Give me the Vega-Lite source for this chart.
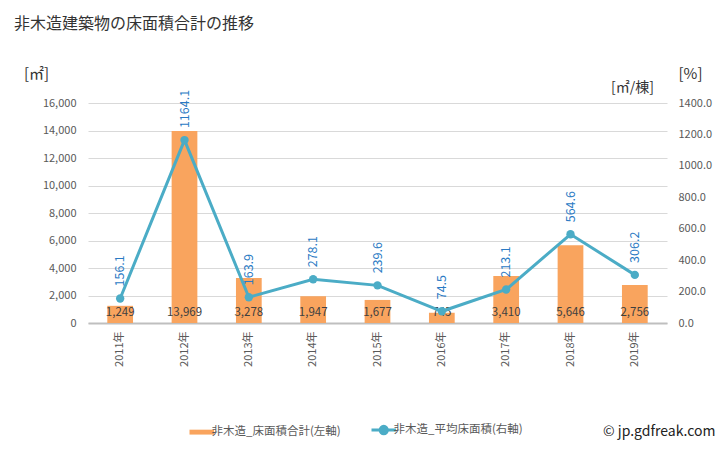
{
  "$schema": "https://vega.github.io/schema/vega-lite/v6.json",
  "width": 579,
  "height": 220,
  "autosize": "none",
  "padding": {"left": 88, "top": 103, "right": 61, "bottom": 127},
  "background": "white",
  "title": {
    "text": "非木造建築物の床面積合計の推移",
    "anchor": "start",
    "frame": "group",
    "dx": -74,
    "offset": 34,
    "fontSize": 16,
    "fontWeight": "normal",
    "font": "Noto Sans CJK JP",
    "color": "#333333"
  },
  "config": {
    "font": "Noto Sans CJK JP",
    "view": {"stroke": null}
  },
  "data": {
    "values": [
      {"year": "2011年", "area": 1249, "avg": 156.1},
      {"year": "2012年", "area": 13969, "avg": 1164.1},
      {"year": "2013年", "area": 3278, "avg": 163.9},
      {"year": "2014年", "area": 1947, "avg": 278.1},
      {"year": "2015年", "area": 1677, "avg": 239.6},
      {"year": "2016年", "area": 745, "avg": 74.5},
      {"year": "2017年", "area": 3410, "avg": 213.1},
      {"year": "2018年", "area": 5646, "avg": 564.6},
      {"year": "2019年", "area": 2756, "avg": 306.2}
    ]
  },
  "transform": [{"fold": ["area", "avg"], "as": ["series", "value"]}],
  "encoding": {
    "x": {
      "field": "year",
      "type": "ordinal",
      "scale": {"paddingInner": 0.6, "paddingOuter": 0.3},
      "axis": {
        "title": "[㎡/棟]",
        "titleX": 544,
        "titleY": -236,
        "titleAngle": 0,
        "titleAlign": "center",
        "titleBaseline": "middle",
        "titleFontSize": 14,
        "titleFontWeight": "normal",
        "titleColor": "#333333",
        "labelAngle": 270,
        "labelAlign": "right",
        "labelBaseline": "middle",
        "labelPadding": 8,
        "labelFontSize": 11,
        "labelColor": "#595959",
        "ticks": false,
        "domain": true,
        "domainColor": "#bfbfbf",
        "domainWidth": 2,
        "grid": false
      }
    },
    "color": {
      "field": "series",
      "type": "nominal",
      "scale": {"domain": ["area", "avg"], "range": ["#f9a45e", "#4bacc6"]},
      "legend": {
        "orient": "none",
        "legendX": 108,
        "legendY": 321,
        "direction": "horizontal",
        "title": "© jp.gdfreak.com",
        "titleOrient": "right",
        "titlePadding": 80,
        "titleFontSize": 14,
        "titleFontWeight": "normal",
        "titleColor": "#222222",
        "labelExpr": "datum.value === 'area' ? '非木造_床面積合計(左軸)' : '非木造_平均床面積(右軸)'",
        "labelFontSize": 11.5,
        "labelColor": "#595959",
        "labelOffset": 4,
        "symbolSize": 600,
        "columnPadding": 24,
        "encode": {
          "symbols": {
            "update": {
              "shape": {"signal": "datum.value === 'avg' ? 'M-1,0H1M0.3,0A0.3,0.3 0 1 1 -0.3,0A0.3,0.3 0 1 1 0.3,0' : 'M-1,-0.2H1V0.2H-1Z'"},
              "strokeWidth": {"signal": "datum.value === 'avg' ? 3 : 0"},
              "fill": {"signal": "datum.value === 'avg' ? '#4bacc6' : '#f9a45e'"},
              "stroke": {"signal": "datum.value === 'avg' ? '#4bacc6' : '#f9a45e'"}
            }
          }
        }
      }
    }
  },
  "layer": [
    {
      "transform": [{"filter": "datum.series === 'area'"}],
      "encoding": {
        "y": {
          "field": "value",
          "type": "quantitative",
          "scale": {"domain": [0, 16000], "nice": false},
          "axis": {
            "title": "[㎡]",
            "titleX": -52,
            "titleY": -30,
            "titleAngle": 0,
            "titleAlign": "center",
            "titleBaseline": "middle",
            "titleFontSize": 15,
            "titleFontWeight": "normal",
            "titleColor": "#333333",
            "values": [0, 2000, 4000, 6000, 8000, 10000, 12000, 14000, 16000],
            "format": ",d",
            "labelFontSize": 11,
            "labelColor": "#595959",
            "labelPadding": 12,
            "ticks": false,
            "domain": false,
            "grid": true,
            "gridColor": "#d9d9d9",
            "gridWidth": 1
          }
        }
      },
      "layer": [
        {"mark": {"type": "bar"}},
        {
          "mark": {"type": "text", "baseline": "bottom", "dy": -5, "fontSize": 11.5, "color": "#404040"},
          "encoding": {
            "y": {"datum": 0, "type": "quantitative"},
            "color": {"value": "#404040"},
            "text": {"field": "value", "type": "quantitative", "format": ","}
          }
        }
      ]
    },
    {
      "transform": [{"filter": "datum.series === 'avg'"}],
      "encoding": {
        "y": {
          "field": "value",
          "type": "quantitative",
          "scale": {"domain": [0, 1400], "nice": false},
          "axis": {
            "orient": "right",
            "title": "[%]",
            "titleX": 23,
            "titleY": -30,
            "titleAngle": 0,
            "titleAlign": "center",
            "titleBaseline": "middle",
            "titleFontSize": 15,
            "titleFontWeight": "normal",
            "titleColor": "#333333",
            "values": [0, 200, 400, 600, 800, 1000, 1200, 1400],
            "format": ".1f",
            "labelFontSize": 11,
            "labelColor": "#595959",
            "labelPadding": 11,
            "ticks": false,
            "domain": false,
            "grid": false
          }
        }
      },
      "layer": [
        {"mark": {"type": "line", "strokeWidth": 3}},
        {"mark": {"type": "circle", "size": 70, "opacity": 1}},
        {
          "mark": {"type": "text", "angle": 270, "align": "left", "baseline": "middle", "dx": 12, "fontSize": 12.5},
          "encoding": {
            "color": {"value": "#2a7ac4"},
            "text": {"field": "value", "type": "quantitative", "format": ".1f"}
          }
        }
      ]
    }
  ],
  "resolve": {"scale": {"y": "independent"}}
}
